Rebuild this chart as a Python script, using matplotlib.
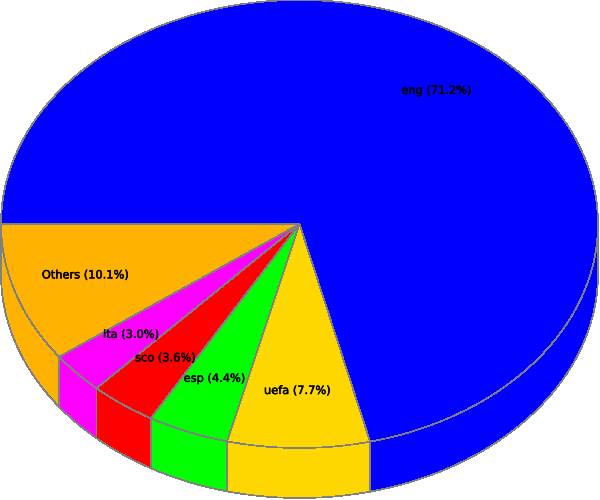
import numpy as np
import matplotlib
matplotlib.use('Agg')
import matplotlib.pyplot as plt
import matplotlib.patheffects as pe
from matplotlib.patches import Polygon

labels = ['Others', 'ita', 'sco', 'esp', 'uefa', 'eng']
shares = [10.1, 3.0, 3.6, 4.4, 7.7, 71.2]
colors = ['#ffb300', '#ff00ff', '#ff0000', '#00ff00', '#ffd700', '#0000ff']

cx, cy = 299.5, 224
rx, ry = 298.5, 224
depth = 50
edge = '#808080'
lw = 0.5


# angles run from the left edge of the pie, downwards through the front
def arc(a, b, dy=0):
    t = np.radians(np.linspace(a, b, max(int(abs(b - a) * 2), 2)))
    return np.column_stack([cx - rx * np.cos(t), cy + ry * np.sin(t) + dy])


fig = plt.figure(figsize=(6, 5), dpi=100)
ax = fig.add_axes([0, 0, 1, 1])
ax.set_xlim(0, 600)
ax.set_ylim(500, 0)
ax.axis('off')

ends = np.cumsum(shares) * 3.6
starts = ends - np.array(shares) * 3.6

# side wall, only the front half can be seen
for a, b, c in zip(starts, ends, colors):
    b = min(b, 180)
    if a >= b:
        continue
    top = arc(a, b)
    bottom = arc(a, b, dy=depth)
    ax.add_patch(Polygon(np.vstack([top, bottom[::-1]]), closed=True, facecolor=c,
                         edgecolor=edge, linewidth=lw, antialiased=False))

# top face
for a, b, c in zip(starts, ends, colors):
    pts = np.vstack([[cx, cy], arc(a, b)])
    ax.add_patch(Polygon(pts, closed=True, facecolor=c, edgecolor=edge,
                         linewidth=lw, antialiased=False))

for name, share, a, b in zip(labels, shares, starts, ends):
    m = np.radians((a + b) / 2)
    x = cx - 0.75 * rx * np.cos(m) - 1.5
    y = cy + 0.75 * ry * np.sin(m) - 1
    ax.text(x, y, '%s (%.1f%%)' % (name, share), ha='center', va='center',
            fontsize=8.2, color='black', family='DejaVu Sans',
            path_effects=[pe.withStroke(linewidth=0.35, foreground='black')])

fig.savefig('out.png', dpi=100, facecolor='white')
